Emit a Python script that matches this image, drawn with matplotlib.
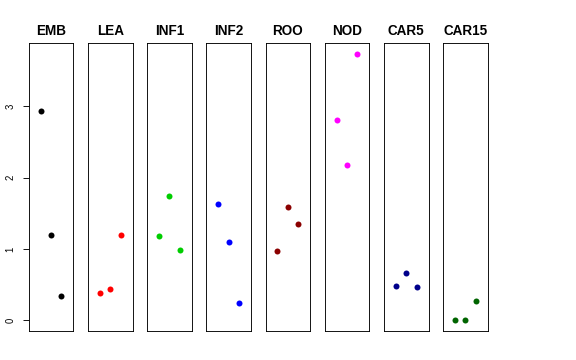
import matplotlib
matplotlib.use('Agg')
import matplotlib.pyplot as plt

# nombres de los grupos y colores de cada panel
grupos = ['EMB', 'LEA', 'INF1', 'INF2', 'ROO', 'NOD', 'CAR5', 'CAR15']
colores = ['black', 'red', '#00CD00', 'blue', '#8B0000', 'magenta', '#00008B', '#006400']

# valores, tres replicas por grupo
emb = [2.93, 1.195, 0.336]
lea = [0.387, 0.434, 1.195]
inf1 = [1.185, 1.737, 0.98]
inf2 = [1.63, 1.097, 0.247]
roo = [0.975, 1.587, 1.345]
nod = [2.815, 2.175, 3.734]
car5 = [0.485, 0.667, 0.471]
car15 = [0.0, 0.0, 0.266]
valores = [emb, lea, inf1, inf2, roo, nod, car5, car15]
replicas = [1, 2, 3]

plt.rcParams['font.family'] = ['Liberation Sans', 'DejaVu Sans']

fig = plt.figure(figsize=(8, 5), dpi=72)

# limites estilo R (rango extendido un 4%)
ymin = min(min(v) for v in valores)
ymax = max(max(v) for v in valores)
ext = (ymax - ymin) * 0.04
ylim = (ymin - ext, ymax + ext)
xlim = (-0.16, 4.16)

W, H = 576.0, 360.0
izq0, paso, ancho = 28.7, 59.2, 44.6
arriba, abajo = 43.3, 331.0

for i, (nombre, col, vals) in enumerate(zip(grupos, colores, valores)):
    ax = fig.add_axes([(izq0 + paso * i) / W, (H - abajo) / H,
                       ancho / W, (abajo - arriba) / H])
    ax.plot(replicas, vals, 'o', color=col, markersize=6, markeredgewidth=0)
    ax.set_xlim(*xlim)
    ax.set_ylim(*ylim)
    ax.set_xticks([])
    ax.set_title(nombre, fontsize=13.5, fontweight='bold', pad=8.5)
    for s in ax.spines.values():
        s.set_linewidth(0.9)
        s.set_color('black')
    if i == 0:
        ax.set_yticks([0, 1, 2, 3])
        ax.set_yticklabels(['0', '1', '2', '3'], rotation=90, va='center', fontsize=9.5)
        ax.tick_params(axis='y', length=6, width=0.9, pad=7)
    else:
        ax.set_yticks([])

fig.savefig('out.png', dpi=72)
